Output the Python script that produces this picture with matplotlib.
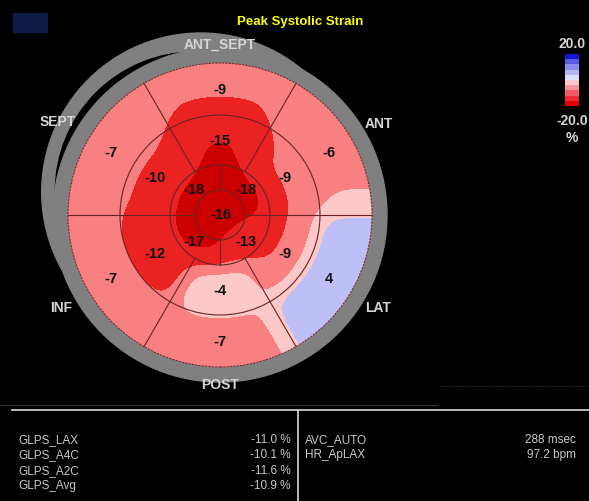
import numpy as np
import matplotlib
matplotlib.use("Agg")
import matplotlib.pyplot as plt
from matplotlib.patches import Circle, Rectangle
from matplotlib.colors import ListedColormap, BoundaryNorm

# ---------------- data ----------------
wall_labels = ["ANT_SEPT", "ANT", "LAT", "POST", "INF", "SEPT"]
wall_angles = [90, 30, -30, -90, -150, 150]
basal_values = [-9, -6, 4, -7, -7, -7]
mid_values = [-15, -9, -9, -4, -12, -10]
apical_angles = [135, 45, -45, -135]
apical_values = [-18, -18, -13, -17]
apex_value = -16

# display thresholds of the strain map and their colours
map_levels = [-20, -15.0, -9.3, -5.85, 0, 20]
map_colors = ["#CC0000", "#EA2222", "#F88080", "#FCC8C8", "#BFBFF8"]

# colour bar (legend)
cbar_levels = [-20, -16, -12, -8, -4, 0, 4, 8, 12, 16, 20]
cbar_colors = ["#E00000", "#F02A34", "#F45A66", "#F7959E", "#FAC8CC",
               "#DCDCF8", "#B4B4F2", "#8C8CEE", "#5A5AE4", "#1414D2"]

glps_labels = ["GLPS_LAX", "GLPS_A4C", "GLPS_A2C", "GLPS_Avg"]
glps_values = [-11.0, -10.1, -11.6, -10.9]
other_labels = ["AVC_AUTO", "HR_ApLAX"]
other_values = ["288 msec", "97.2 bpm"]

# ---------------- layout ----------------
W, H = 589, 502
FONT = "Liberation Sans"
fig = plt.figure(figsize=(W / 100, H / 100), dpi=100, facecolor="black")
ax = fig.add_axes([0, 0, 1, 1])
ax.set_xlim(0, W)
ax.set_ylim(0, H)
ax.axis("off")
ax.set_facecolor("black")

cx, cy = 220, H - 216
radii = [25, 50, 100, 152]
ring_outer = 167
gray = "#808080"


def offset(dist, ang):
    return (cx + dist * np.cos(np.radians(ang)), cy + dist * np.sin(np.radians(ang)))


# offset outer arc with black crescent gap
ax.add_patch(Circle(offset(30, 130), 159, color=gray, zorder=1))
ax.add_patch(Circle(offset(34.8, 137), 139.2, color="black", zorder=1.5))
ax.add_patch(Circle((cx, cy), ring_outer, color=gray, zorder=2))

# ---------------- strain field ----------------
xs = np.arange(cx - 180, cx + 181)
ys = np.arange(cy - 180, cy + 181)
X, Y = np.meshgrid(xs, ys)
dx, dy = X - cx, Y - cy
r = np.hypot(dx, dy)
th = np.degrees(np.arctan2(dy, dx))


def nearest(angles, vals):
    a = np.array(angles, dtype=float)
    diff = np.abs((th[..., None] - a + 180) % 360 - 180)
    return np.array(vals, dtype=float)[np.argmin(diff, axis=-1)]


F = np.where(r < radii[0], apex_value,
     np.where(r < radii[1], nearest(apical_angles, apical_values),
     np.where(r < radii[2], nearest(wall_angles, mid_values),
              nearest(wall_angles, basal_values))))

sigma = 12
k = np.arange(-3 * sigma, 3 * sigma + 1)
ker = np.exp(-k ** 2 / (2 * sigma ** 2))
ker /= ker.sum()
pad = 3 * sigma
Fp = np.pad(F, pad, mode="edge")
Fp = np.apply_along_axis(lambda v: np.convolve(v, ker, mode="valid"), 0, Fp)
Fs = np.apply_along_axis(lambda v: np.convolve(v, ker, mode="valid"), 1, Fp)

cs = ax.contourf(X, Y, Fs, levels=map_levels, colors=map_colors, zorder=3)
clip = Circle((cx, cy), radii[3], transform=ax.transData)
cs.set_clip_path(clip)

lc = "#6a2222"
for rr in radii[:3]:
    ax.add_patch(Circle((cx, cy), rr, fill=False, ec=lc, lw=0.8, zorder=4))
ax.add_patch(Circle((cx, cy), radii[3], fill=False, ec="#7a3030", lw=0.8,
                    ls=(0, (2, 1)), zorder=4))
for ang in [0, 60, 120, 180, 240, 300]:
    r0 = radii[0] if ang in (0, 180) else radii[1]
    c, s = np.cos(np.radians(ang)), np.sin(np.radians(ang))
    ax.plot([cx + r0 * c, cx + radii[3] * c], [cy + r0 * s, cy + radii[3] * s],
            color=lc, lw=0.8, zorder=4)
for ang in [90, 270]:
    c, s = np.cos(np.radians(ang)), np.sin(np.radians(ang))
    ax.plot([cx + radii[0] * c, cx + radii[1] * c], [cy + radii[0] * s, cy + radii[1] * s],
            color=lc, lw=0.8, zorder=4)

num_kw = dict(ha="center", va="center", fontsize=10.5, fontweight="bold",
              color="#111111", family=FONT, zorder=5)
for ang, v in zip(wall_angles, basal_values):
    ax.text(cx + 126 * np.cos(np.radians(ang)), cy + 126 * np.sin(np.radians(ang)), f"{v}", **num_kw)
for ang, v in zip(wall_angles, mid_values):
    ax.text(cx + 75 * np.cos(np.radians(ang)), cy + 75 * np.sin(np.radians(ang)), f"{v}", **num_kw)
for ang, v in zip(apical_angles, apical_values):
    ax.text(cx + 37 * np.cos(np.radians(ang)), cy + 37 * np.sin(np.radians(ang)), f"{v}", **num_kw)
ax.text(cx + 1, cy + 1, f"{apex_value}", **num_kw)

label_radius = [171, 183, 183, 169, 183, 188]
lab_kw = dict(ha="center", va="center", fontsize=10, fontweight="bold",
              color="#D4D4D4", family=FONT, zorder=6)
for lab, ang, lr in zip(wall_labels, wall_angles, label_radius):
    ax.text(cx + lr * np.cos(np.radians(ang)), cy + lr * np.sin(np.radians(ang)), lab, **lab_kw)

# title & navy box
ax.text(300, H - 22, "Peak Systolic Strain", ha="center", va="center", fontsize=9.5,
        fontweight="bold", color="#FFFF00", family=FONT)
ax.add_patch(Rectangle((13, H - 33), 34, 19, color="#101c48"))

# colorbar
cax = fig.add_axes([565 / W, (H - 107) / H, 14 / W, 52 / H])
mids = (np.array(cbar_levels[:-1]) + np.array(cbar_levels[1:])) / 2
cax.pcolormesh([0, 1], cbar_levels, mids.reshape(-1, 1), cmap=ListedColormap(cbar_colors),
               norm=BoundaryNorm(cbar_levels, len(cbar_colors)))
cax.axis("off")
cb_kw = dict(ha="center", va="center", fontsize=10, fontweight="bold", color="#D4D4D4", family=FONT)
ax.text(572, H - 44, f"{cbar_levels[-1]:.1f}", **cb_kw)
ax.text(572, H - 121, f"{cbar_levels[0]:.1f}", **cb_kw)
ax.text(572, H - 138, "%", **cb_kw)

# bottom panel
ax.plot([0, 437], [H - 406, H - 406], color="#333333", lw=0.8)
ax.plot([440, W], [H - 387, H - 387], color="#333333", lw=0.8, ls=(0, (1, 1)))
ax.plot([12, W], [H - 411, H - 411], color="#C8C8C8", lw=1.3)
ax.plot([298, 298], [H - 411, 0], color="#C8C8C8", lw=1.3)
txt_kw = dict(va="center", fontsize=8.5, color="#C8C8C8", family=FONT)
for i, (lab, v) in enumerate(zip(glps_labels, glps_values)):
    yy = H - (440 + 15.3 * i)
    ax.text(18, yy, lab, ha="left", **txt_kw)
    ax.text(291, yy, f"{v:.1f} %", ha="right", **txt_kw)
for i, (lab, v) in enumerate(zip(other_labels, other_values)):
    yy = H - (440 + 15.3 * i)
    ax.text(305, yy, lab, ha="left", **txt_kw)
    ax.text(576, yy, v, ha="right", **txt_kw)

fig.savefig("out.png", dpi=100, facecolor="black")
